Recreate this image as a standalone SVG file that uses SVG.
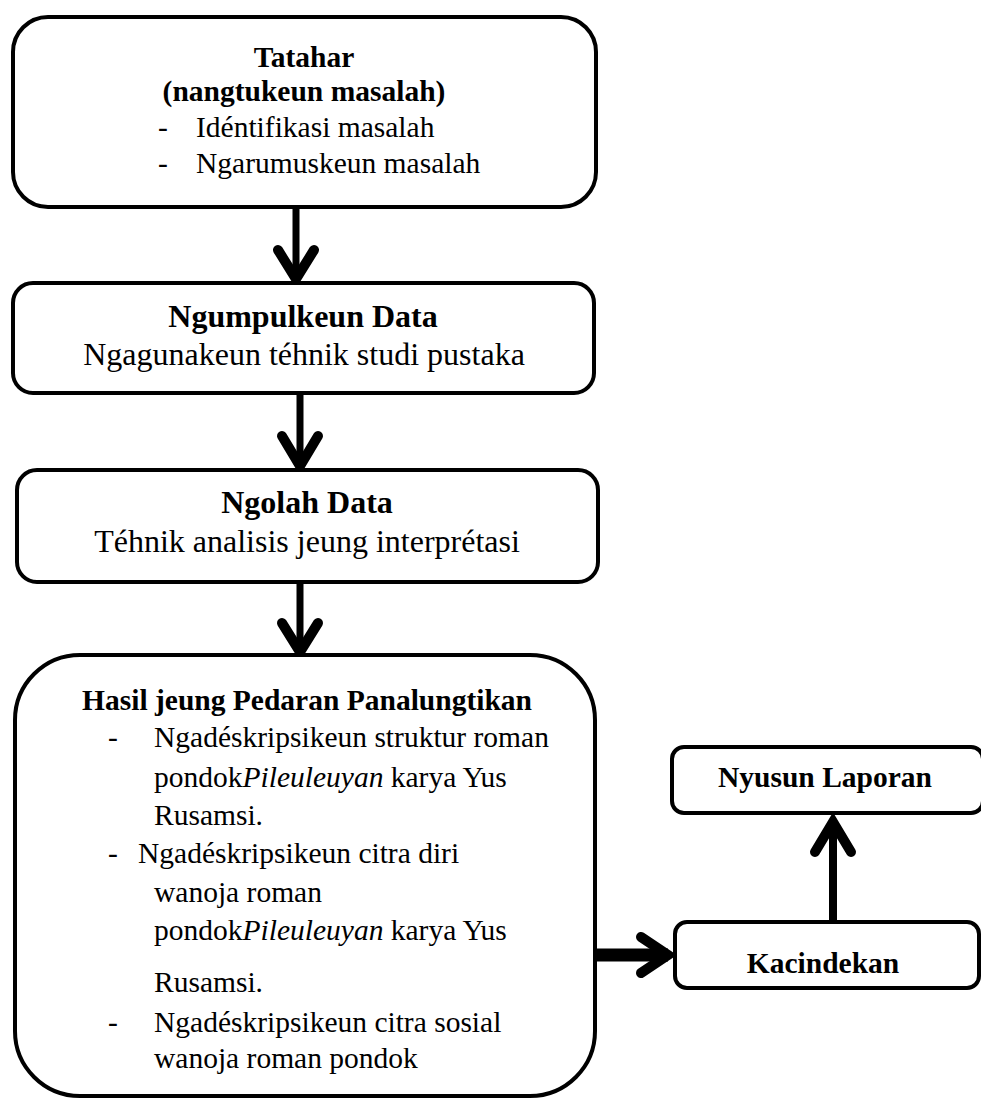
<svg xmlns="http://www.w3.org/2000/svg" width="981" height="1098" viewBox="0 0 981 1098">
<style>
.box{fill:#fff;stroke:#000;stroke-width:4}
.t{font-family:"Liberation Serif","Times New Roman",serif;fill:#000}
.b{font-weight:bold}
.c{text-anchor:middle}
.s32{font-size:32px}
.s30{font-size:29.5px}
.ln{stroke:#000;fill:none;stroke-linecap:butt}
.hd{stroke:#000;fill:none;stroke-width:10;stroke-linecap:round;stroke-linejoin:miter}
</style>
<rect width="981" height="1098" fill="#fff"/>
<g id="connectors">
<line class="ln" x1="296" y1="207" x2="296" y2="281" stroke-width="7"/>
<path class="hd" d="M278,250 L296,279 L314,250"/>
<line class="ln" x1="300" y1="393" x2="300" y2="468" stroke-width="7"/>
<path class="hd" d="M282,436 L300,466 L318,436"/>
<line class="ln" x1="300" y1="583" x2="300" y2="653" stroke-width="7"/>
<path class="hd" d="M282,623 L300,652 L318,623"/>
<line class="ln" x1="597" y1="955" x2="668" y2="955" stroke-width="13"/>
<path class="hd" d="M641,937 L668,955 L641,973" stroke-width="12"/>
<line class="ln" x1="833" y1="922" x2="833" y2="822" stroke-width="8"/>
<path class="hd" d="M815,852 L833,822 L851,852"/>
</g>
<g id="node-tatahar">
<rect class="box" x="13" y="17" width="583" height="190" rx="35"/>
<text class="t b c s30" x="304" y="67">Tatahar</text>
<text class="t b c s30" x="304" y="101">(nangtukeun masalah)</text>
<text class="t s30" x="158" y="137">-</text>
<text class="t s30" x="196" y="137">Idéntifikasi masalah</text>
<text class="t s30" x="158" y="173">-</text>
<text class="t s30" x="196" y="173">Ngarumuskeun masalah</text>
</g>
<g id="node-ngumpulkeun">
<rect class="box" x="13" y="283" width="581" height="110" rx="20"/>
<text class="t b c s32" x="303" y="327">Ngumpulkeun Data</text>
<text class="t c s32" x="304" y="365">Ngagunakeun téhnik studi pustaka</text>
</g>
<g id="node-ngolah">
<rect class="box" x="17" y="470" width="581" height="112" rx="20"/>
<text class="t b c s32" x="307" y="513">Ngolah Data</text>
<text class="t c s32" x="307" y="552">Téhnik analisis jeung interprétasi</text>
</g>
<g id="node-hasil">
<rect class="box" x="15" y="655" width="580" height="441" rx="65"/>
<text class="t b c s30" x="307" y="710">Hasil jeung Pedaran Panalungtikan</text>
<text class="t s30" x="108" y="747">-</text>
<text class="t s30" x="154" y="747">Ngadéskripsikeun struktur roman</text>
<text class="t s30" x="154" y="787">pondok<tspan font-style="italic">Pileuleuyan</tspan> karya Yus</text>
<text class="t s30" x="154" y="825">Rusamsi.</text>
<text class="t s30" x="108" y="863">-</text>
<text class="t s30" x="138" y="863">Ngadéskripsikeun citra diri</text>
<text class="t s30" x="154" y="902">wanoja roman</text>
<text class="t s30" x="154" y="940">pondok<tspan font-style="italic">Pileuleuyan</tspan> karya Yus</text>
<text class="t s30" x="154" y="992">Rusamsi.</text>
<text class="t s30" x="108" y="1032">-</text>
<text class="t s30" x="154" y="1032">Ngadéskripsikeun citra sosial</text>
<text class="t s30" x="154" y="1068">wanoja roman pondok</text>
</g>
<g id="node-nyusun">
<rect class="box" x="672" y="747" width="311" height="66" rx="12"/>
<text class="t b c s30" x="825" y="787">Nyusun Laporan</text>
</g>
<g id="node-kacindekan">
<rect class="box" x="675" y="922" width="304" height="66" rx="12"/>
<text class="t b c s30" x="823" y="973">Kacindekan</text>
</g>
</svg>
